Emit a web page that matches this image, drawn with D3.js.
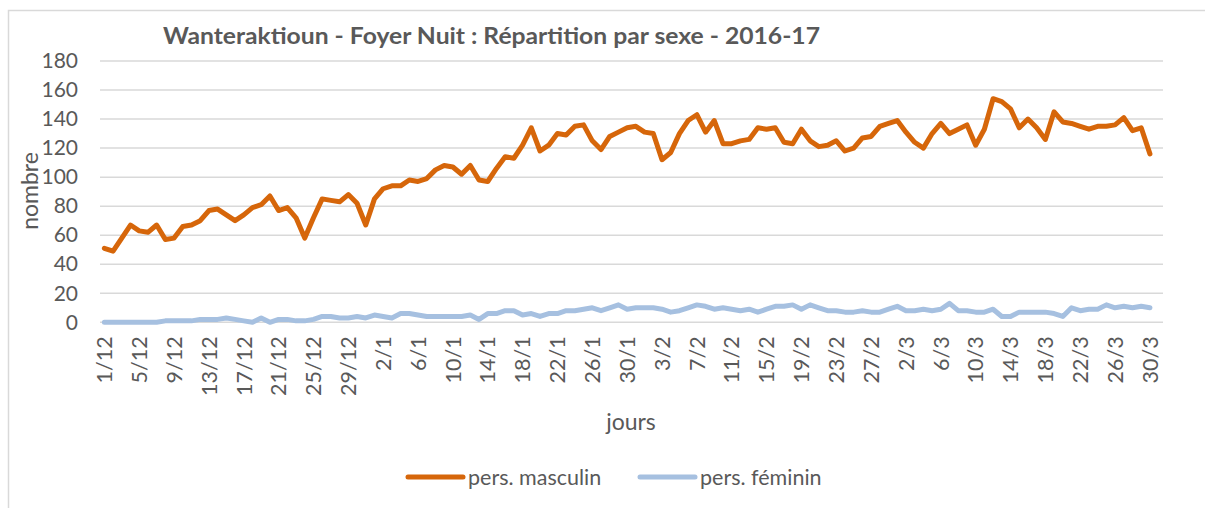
<!DOCTYPE html>
<html>
<head>
<meta charset="utf-8">
<script src="https://cdn.jsdelivr.net/npm/d3@7"></script>
<style>
  html, body { margin: 0; padding: 0; background: #ffffff; }
  svg { display: block; }
  text { font-family: Lato, "Open Sans", sans-serif; fill: #595959; }
</style>
</head>
<body>
<svg id="chart" width="1205" height="508"></svg>
<script>
const categories = [
  "1/12","2/12","3/12","4/12","5/12","6/12","7/12","8/12","9/12","10/12","11/12","12/12","13/12","14/12","15/12","16/12",
  "17/12","18/12","19/12","20/12","21/12","22/12","23/12","24/12","25/12","26/12","27/12","28/12","29/12","30/12","31/12",
  "1/1","2/1","3/1","4/1","5/1","6/1","7/1","8/1","9/1","10/1","11/1","12/1","13/1","14/1","15/1","16/1",
  "17/1","18/1","19/1","20/1","21/1","22/1","23/1","24/1","25/1","26/1","27/1","28/1","29/1","30/1","31/1",
  "1/2","2/2","3/2","4/2","5/2","6/2","7/2","8/2","9/2","10/2","11/2","12/2","13/2","14/2","15/2","16/2",
  "17/2","18/2","19/2","20/2","21/2","22/2","23/2","24/2","25/2","26/2","27/2","28/2","29/2",
  "1/3","2/3","3/3","4/3","5/3","6/3","7/3","8/3","9/3","10/3","11/3","12/3","13/3","14/3","15/3","16/3",
  "17/3","18/3","19/3","20/3","21/3","22/3","23/3","24/3","25/3","26/3","27/3","28/3","29/3","30/3","31/3"
];

const tickLabels = [
  "1/12","5/12","9/12","13/12","17/12","21/12","25/12","29/12","2/1","6/1","10/1","14/1","18/1","22/1","26/1","30/1",
  "3/2","7/2","11/2","15/2","19/2","23/2","27/2","2/3","6/3","10/3","14/3","18/3","22/3","26/3","30/3"
];

const yTicks = [0, 20, 40, 60, 80, 100, 120, 140, 160, 180];

const masculin = [
  51, 49, 58, 67, 63, 62, 67, 57, 58, 66, 67, 70, 77, 78, 74, 70,
  74, 79, 81, 87, 77, 79, 72, 58, 72, 85, 84, 83, 88, 82, 67,
  85, 92, 94, 94, 98, 97, 99, 105, 108, 107, 102, 108, 98, 97, 106,
  114, 113, 122, 134, 118, 122, 130, 129, 135, 136, 125, 119, 128, 131, 134,
  135, 131, 130, 112, 117, 130, 139, 143, 131, 139, 123, 123, 125, 126, 134,
  133, 134, 124, 123, 133, 125, 121, 122, 125, 118, 120, 127, 128, 135,
  137, 139, 131, 124, 120, 130, 137, 130, 133, 136, 122, 133, 154, 152, 147,
  134, 140, 134, 126, 145, 138, 137, 135, 133, 135, 135, 136, 141, 132, 134, 116
];

const feminin = [
  0, 0, 0, 0, 0, 0, 0, 1, 1, 1, 1, 2, 2, 2, 3, 2,
  1, 0, 3, 0, 2, 2, 1, 1, 2, 4, 4, 3, 3, 4, 3,
  5, 4, 3, 6, 6, 5, 4, 4, 4, 4, 4, 5, 2, 6, 6,
  8, 8, 5, 6, 4, 6, 6, 8, 8, 9, 10, 8, 10, 12, 9,
  10, 10, 10, 9, 7, 8, 10, 12, 11, 9, 10, 9, 8, 9, 7,
  9, 11, 11, 12, 9, 12, 10, 8, 8, 7, 7, 8, 7, 7,
  9, 11, 8, 8, 9, 8, 9, 13, 8, 8, 7, 7, 9, 4, 4,
  7, 7, 7, 7, 6, 4, 10, 8, 9, 9, 12, 10, 11, 10, 11, 10
];

const seriesNames = ["pers. masculin", "pers. féminin"];
const seriesColors = ["#d6660a", "#a6c0e0"];

const svg = d3.select("#chart");

// outer chart-area border
svg.append("rect")
  .attr("x", 8.5).attr("y", 10.5)
  .attr("width", 1210).attr("height", 520)
  .attr("fill", "none").attr("stroke", "#d9d9d9").attr("stroke-width", 1.5);

const plotLeft = 100, plotRight = 1163, plotTop = 61, plotBottom = 322.3;

const x = d3.scaleBand().domain(categories).range([plotLeft, plotRight]).padding(0);
const cx = c => x(c) + x.bandwidth() / 2;
const y = d3.scaleLinear().domain([0, 180]).range([plotBottom, plotTop]);

// gridlines
svg.append("g").selectAll("line").data(yTicks).join("line")
  .attr("x1", plotLeft).attr("x2", plotRight)
  .attr("y1", d => y(d)).attr("y2", d => y(d))
  .attr("stroke", "#d9d9d9").attr("stroke-width", 1.5);

// y axis
const yAxis = svg.append("g")
  .attr("transform", `translate(${plotLeft},0)`)
  .call(d3.axisLeft(y).tickValues(yTicks).tickSize(0).tickPadding(22));
yAxis.select(".domain").remove();
yAxis.selectAll("text")
  .style("font-family", "Lato, sans-serif")
  .style("font-size", "21px")
  .attr("fill", "#595959");

// x axis
const xAxis = svg.append("g")
  .attr("transform", `translate(0,${plotBottom})`)
  .call(d3.axisBottom(x).tickValues(tickLabels).tickSize(0));
xAxis.select(".domain").remove();
xAxis.selectAll("text")
  .style("font-family", "Lato, sans-serif")
  .style("font-size", "21.5px")
  .attr("fill", "#595959")
  .attr("transform", "rotate(-90)")
  .attr("text-anchor", "end")
  .attr("x", -14)
  .attr("y", 0)
  .attr("dy", "0.36em");

// lines
const line = d3.line()
  .defined(d => d.v != null)
  .x(d => cx(d.c))
  .y(d => y(d.v));

[masculin, feminin].forEach((vals, k) => {
  const data = vals.map((v, i) => ({ c: categories[i], v: v }));
  svg.append("path")
    .datum(data)
    .attr("fill", "none")
    .attr("stroke", seriesColors[k])
    .attr("stroke-width", 5)
    .attr("stroke-linejoin", "round")
    .attr("stroke-linecap", "round")
    .attr("d", line);
});

// title
svg.append("text")
  .attr("x", 163).attr("y", 44)
  .attr("textLength", 657).attr("lengthAdjust", "spacingAndGlyphs")
  .style("font-size", "22px").style("font-weight", "bold")
  .text("Wanteraktioun - Foyer Nuit : Répartition par sexe - 2016-17");

// axis titles
svg.append("text")
  .attr("transform", "translate(38,191) rotate(-90)")
  .attr("text-anchor", "middle")
  .style("font-size", "23px")
  .text("nombre");

svg.append("text")
  .attr("x", 631).attr("y", 430)
  .attr("text-anchor", "middle")
  .style("font-size", "23px")
  .text("jours");

// legend
const legendX = [408, 640];
seriesNames.forEach((name, k) => {
  const g = svg.append("g").attr("transform", `translate(${legendX[k]},477)`);
  g.append("line")
    .attr("x1", 0).attr("x2", 55).attr("y1", 0).attr("y2", 0)
    .attr("stroke", seriesColors[k]).attr("stroke-width", 5)
    .attr("stroke-linecap", "round");
  g.append("text")
    .attr("x", 60).attr("y", 8)
    .style("font-size", "21.5px")
    .text(name);
});
</script>
</body>
</html>
